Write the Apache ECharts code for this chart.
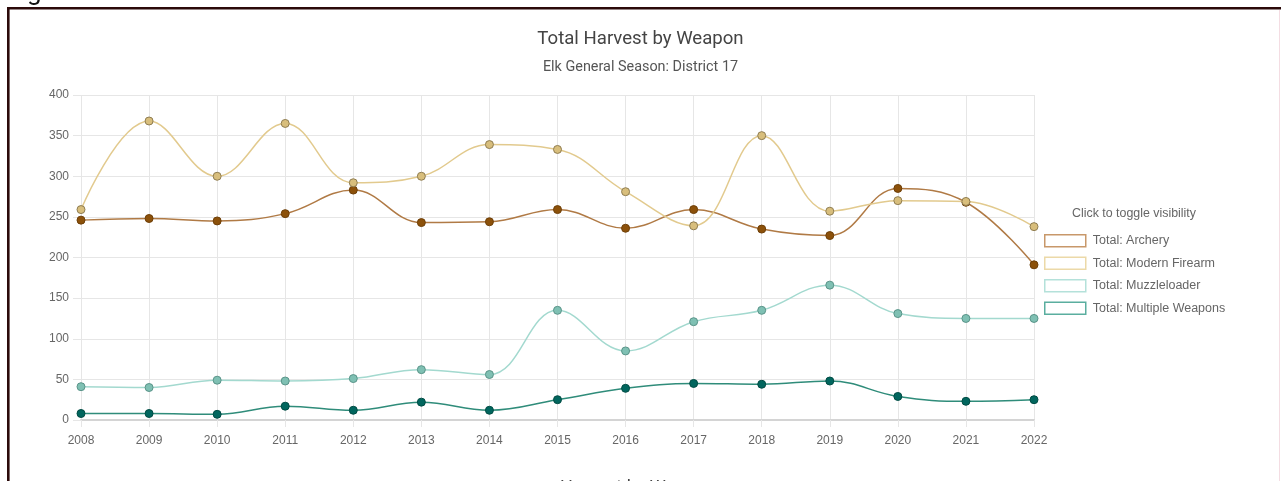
<!DOCTYPE html>
<html>
<head>
<meta charset="utf-8">
<script src="https://cdn.jsdelivr.net/npm/echarts@6/dist/echarts.min.js"></script>
<style>
html,body{margin:0;padding:0;background:#fff;}
#c{width:1281px;height:481px;}
</style>
</head>
<body>
<div id="c"></div>
<script>
const years = ['2008','2009','2010','2011','2012','2013','2014','2015','2016','2017','2018','2019','2020','2021','2022'];
const archery = [246,248,245,254,283,243,244,259,236,259,235,227,285,268,191];
const modernFirearm = [259,368,300,365,292,300,339,333,281,239,350,257,270,269,238];
const muzzleloader = [41,40,49,48,51,62,56,135,85,121,135,166,131,125,125];
const multipleWeapons = [8,8,7,17,12,22,12,25,39,45,44,48,29,23,25];
const seriesNames = ['Total: Archery','Total: Modern Firearm','Total: Muzzleloader','Total: Multiple Weapons'];
const yTicks = {min:0, max:400, interval:50};

const styles = [
  {line:'#b07a45', fill:'#8c510a', border:'#6e3f08', legend:'#c8986a'},
  {line:'#e2ca8e', fill:'#d8be7c', border:'#8f7d52', legend:'#ecd9a8'},
  {line:'#a3d9cf', fill:'#7fc0b3', border:'#5a9489', legend:'#b4e1da'},
  {line:'#2f8c7a', fill:'#01665e', border:'#014c44', legend:'#5aae9f'}
];
const data = [archery, modernFirearm, muzzleloader, multipleWeapons];

const chart = echarts.init(document.getElementById('c'), null, {renderer:'canvas'});
const font = '"Liberation Sans", Arial, sans-serif';
chart.setOption({
  animation:false,
  backgroundColor:'#fff',
  title:{
    text:'Total Harvest by Weapon',
    subtext:'Elk General Season: District 17',
    left:'center', top:25, itemGap:11,
    textStyle:{fontFamily:'Roboto', fontSize:18.6, fontWeight:'normal', color:'#444'},
    subtextStyle:{fontFamily:'Roboto', fontSize:14.4, color:'#555'}
  },
  grid:{left:81, right:247, top:95, bottom:61, containLabel:false},
  xAxis:{
    type:'category', data:years, boundaryGap:false,
    axisLine:{show:true, lineStyle:{color:'#d4d4d4', width:2}},
    axisTick:{show:true, alignWithLabel:true, length:7, lineStyle:{color:'#e6e6e6'}},
    splitLine:{show:true, lineStyle:{color:'#e6e6e6', width:1}},
    axisLabel:{color:'#666', fontSize:12, fontFamily:font, margin:15}
  },
  yAxis:{
    type:'value', min:yTicks.min, max:yTicks.max, interval:yTicks.interval,
    axisLine:{show:false},
    axisTick:{show:true, length:8, lineStyle:{color:'#e6e6e6'}},
    splitLine:{show:true, lineStyle:{color:'#e6e6e6', width:1}},
    axisLabel:{color:'#666', fontSize:12, fontFamily:font, margin:12}
  },
  legend:{
    orient:'vertical', left:1044, top:234, itemWidth:41, itemHeight:12, itemGap:9, padding:0,
    icon:'rect',
    textStyle:{color:'#666', fontSize:12.5, fontFamily:font, padding:[0,0,0,2]},
    data: seriesNames.map((n,i)=>({name:n, icon:'rect', itemStyle:{color:'#fff', borderColor:styles[i].legend, borderWidth:1.5}}))
  },
  graphic:[
    {type:'text', left:1072, top:208, style:{text:'Click to toggle visibility', fill:'#666', font:'12.4px "Liberation Sans", Arial, sans-serif'}},
    {type:'rect', shape:{x:7, y:7, width:1274, height:2.6}, style:{fill:'#2b0a0a'}},
    {type:'rect', shape:{x:7, y:7, width:2.6, height:474}, style:{fill:'#2b0a0a'}},
    {type:'rect', shape:{x:1279, y:10, width:1, height:471}, style:{fill:'#f4dde3'}},
    {type:'text', x:27, y:6, style:{text:'g', fill:'#111', font:'26px Roboto', verticalAlign:'bottom'}},
    {type:'text', x:560, y:479, style:{text:'Harvest by Weapon', fill:'#444', font:'18px Roboto', verticalAlign:'top'}}
  ],
  series: data.map((d,i)=>({
    name:seriesNames[i], type:'line', data:d, smooth:0.4,
    symbol:'circle', symbolSize:8, showSymbol:true,
    lineStyle:{color:styles[i].line, width:1.5},
    itemStyle:{color:styles[i].fill, borderColor:styles[i].border, borderWidth:1},
    z: 2+i
  }))
});
</script>
</body>
</html>
